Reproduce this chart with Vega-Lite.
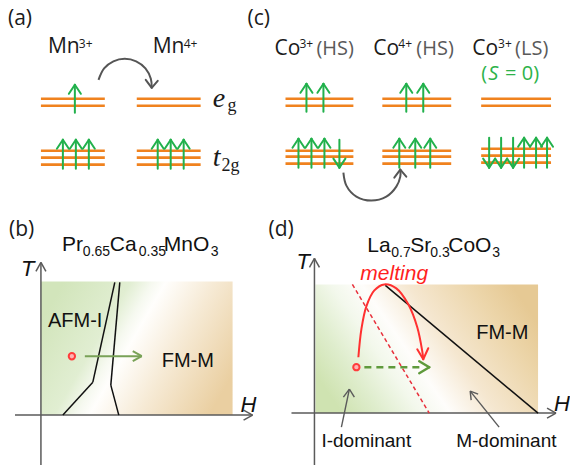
{
"$schema": "https://vega.github.io/schema/vega-lite/v6.json",
"width": 570, "height": 466, "padding": 0,
"autosize": {"type": "fit", "contains": "padding"},
"background": "white",
"config": {"view": {"stroke": null}},
"datasets": {
"rb": [{"x": 41, "x2": 233, "y": 282, "y2": 416}],
"rd": [{"x": 316, "x2": 539, "y": 285, "y2": 414}],
"lv": [
{"x":41,"x2":105,"y":99},{"x":41,"x2":105,"y":106},{"x":137,"x2":201,"y":99},{"x":137,"x2":201,"y":106},
{"x":41,"x2":105,"y":151},{"x":41,"x2":105,"y":158},{"x":41,"x2":105,"y":165},
{"x":137,"x2":201,"y":151},{"x":137,"x2":201,"y":158},{"x":137,"x2":201,"y":165},
{"x":286,"x2":354,"y":99},{"x":286,"x2":354,"y":106},{"x":383,"x2":452,"y":99},{"x":383,"x2":452,"y":106},
{"x":482,"x2":552,"y":99},{"x":482,"x2":552,"y":106},
{"x":286,"x2":354,"y":151},{"x":286,"x2":354,"y":157},{"x":286,"x2":354,"y":164},
{"x":383,"x2":452,"y":151},{"x":383,"x2":452,"y":157},{"x":383,"x2":452,"y":164},
{"x":482,"x2":552,"y":149},{"x":482,"x2":552,"y":156},{"x":482,"x2":552,"y":163}
],
"sp": [
{"x":75,"y":113,"x2":75,"y2":85},{"x":69,"y":94,"x2":75,"y2":85},{"x":81,"y":94,"x2":75,"y2":85},
{"x":63,"y":169,"x2":63,"y2":140},{"x":57,"y":149,"x2":63,"y2":140},{"x":69,"y":149,"x2":63,"y2":140},
{"x":76,"y":169,"x2":76,"y2":140},{"x":70,"y":149,"x2":76,"y2":140},{"x":82,"y":149,"x2":76,"y2":140},
{"x":89,"y":169,"x2":89,"y2":140},{"x":83,"y":149,"x2":89,"y2":140},{"x":95,"y":149,"x2":89,"y2":140},
{"x":158,"y":169,"x2":158,"y2":140},{"x":152,"y":149,"x2":158,"y2":140},{"x":164,"y":149,"x2":158,"y2":140},
{"x":171,"y":169,"x2":171,"y2":140},{"x":165,"y":149,"x2":171,"y2":140},{"x":177,"y":149,"x2":171,"y2":140},
{"x":184,"y":169,"x2":184,"y2":140},{"x":178,"y":149,"x2":184,"y2":140},{"x":190,"y":149,"x2":184,"y2":140},
{"x":307,"y":112,"x2":307,"y2":84},{"x":301,"y":93,"x2":307,"y2":84},{"x":313,"y":93,"x2":307,"y2":84},
{"x":324,"y":112,"x2":324,"y2":84},{"x":318,"y":93,"x2":324,"y2":84},{"x":330,"y":93,"x2":324,"y2":84},
{"x":407,"y":112,"x2":407,"y2":84},{"x":401,"y":93,"x2":407,"y2":84},{"x":413,"y":93,"x2":407,"y2":84},
{"x":424,"y":112,"x2":424,"y2":84},{"x":418,"y":93,"x2":424,"y2":84},{"x":430,"y":93,"x2":424,"y2":84},
{"x":299,"y":168,"x2":299,"y2":139},{"x":293,"y":148,"x2":299,"y2":139},{"x":305,"y":148,"x2":299,"y2":139},
{"x":312,"y":168,"x2":312,"y2":139},{"x":306,"y":148,"x2":312,"y2":139},{"x":318,"y":148,"x2":312,"y2":139},
{"x":325,"y":168,"x2":325,"y2":139},{"x":319,"y":148,"x2":325,"y2":139},{"x":331,"y":148,"x2":325,"y2":139},
{"x":340,"y":140,"x2":340,"y2":168},{"x":334,"y":159,"x2":340,"y2":168},{"x":346,"y":159,"x2":340,"y2":168},
{"x":400,"y":168,"x2":400,"y2":139},{"x":394,"y":148,"x2":400,"y2":139},{"x":406,"y":148,"x2":400,"y2":139},
{"x":416,"y":168,"x2":416,"y2":139},{"x":410,"y":148,"x2":416,"y2":139},{"x":422,"y":148,"x2":416,"y2":139},
{"x":431,"y":168,"x2":431,"y2":139},{"x":425,"y":148,"x2":431,"y2":139},{"x":437,"y":148,"x2":431,"y2":139},
{"x":490,"y":138,"x2":490,"y2":168},{"x":484,"y":159,"x2":490,"y2":168},{"x":496,"y":159,"x2":490,"y2":168},
{"x":502,"y":138,"x2":502,"y2":168},{"x":496,"y":159,"x2":502,"y2":168},{"x":508,"y":159,"x2":502,"y2":168},
{"x":514,"y":138,"x2":514,"y2":168},{"x":508,"y":159,"x2":514,"y2":168},{"x":520,"y":159,"x2":514,"y2":168},
{"x":525,"y":168,"x2":525,"y2":138},{"x":519,"y":147,"x2":525,"y2":138},{"x":531,"y":147,"x2":525,"y2":138},
{"x":537,"y":168,"x2":537,"y2":138},{"x":531,"y":147,"x2":537,"y2":138},{"x":543,"y":147,"x2":537,"y2":138},
{"x":548,"y":168,"x2":548,"y2":138},{"x":542,"y":147,"x2":548,"y2":138},{"x":554,"y":147,"x2":548,"y2":138}
],
"ax": [
{"x":41,"y":466,"x2":41,"y2":263},{"x":36,"y":272,"x2":41,"y2":263},{"x":46,"y":272,"x2":41,"y2":263},
{"x":15,"y":416,"x2":253,"y2":416},{"x":244,"y":411,"x2":253,"y2":416},{"x":244,"y":421,"x2":253,"y2":416},
{"x":315,"y":466,"x2":315,"y2":259},{"x":310,"y":268,"x2":315,"y2":259},{"x":320,"y":268,"x2":315,"y2":259},
{"x":292,"y":414,"x2":557,"y2":414},{"x":548,"y":409,"x2":557,"y2":414},{"x":548,"y":419,"x2":557,"y2":414}
],
"ph": [
{"x":63,"y":416,"x2":93,"y2":383},{"x":93,"y":383,"x2":115,"y2":283},
{"x":119,"y":416,"x2":111,"y2":386},{"x":111,"y":386,"x2":120,"y2":283},
{"x":386,"y":286,"x2":539,"y2":414}
],
"gar": [{"x":85,"y":357,"x2":142,"y2":357},{"x":133,"y":352,"x2":142,"y2":357},{"x":133,"y":362,"x2":142,"y2":357}],
"gd": [{"x":365,"y":368,"x2":424,"y2":368}],
"gh": [{"x":420,"y":362,"x2":430,"y2":368},{"x":420,"y":374,"x2":430,"y2":368}],
"rdl": [{"x":353,"y":285,"x2":430,"y2":414}],
"ptr": [
{"x":342,"y":428,"x2":350,"y2":390},{"x":344,"y":398,"x2":350,"y2":390},{"x":355,"y":398,"x2":350,"y2":390},
{"x":500,"y":428,"x2":471,"y2":392},{"x":472,"y":401,"x2":471,"y2":392},{"x":479,"y":395,"x2":471,"y2":392}
],
"gah": [{"x":146,"y":80,"x2":152,"y2":88},{"x":158,"y":81,"x2":152,"y2":88},{"x":395,"y":178,"x2":401,"y2":170},{"x":407,"y":177,"x2":401,"y2":170}],
"rah": [{"x":418,"y":350,"x2":424,"y2":360},{"x":429,"y":349,"x2":424,"y2":360}],
"gc": [
{"id":"a","i":0,"x":98.7,"y":80},{"id":"a","i":1,"x":104.3,"y":68.6},{"id":"a","i":2,"x":113.6,"y":61.5},{"id":"a","i":3,"x":125,"y":59},
{"id":"a","i":4,"x":136.4,"y":61.5},{"id":"a","i":5,"x":145.7,"y":68.6},{"id":"a","i":6,"x":151.1,"y":79},{"id":"a","i":7,"x":152,"y":88},
{"id":"c","i":0,"x":344,"y":173},{"id":"c","i":1,"x":347,"y":186},{"id":"c","i":2,"x":357,"y":197},{"id":"c","i":3,"x":372,"y":201},
{"id":"c","i":4,"x":387,"y":197},{"id":"c","i":5,"x":397,"y":187},{"id":"c","i":6,"x":401,"y":177},{"id":"c","i":7,"x":401,"y":170}
],
"rc": [
{"i":0,"x":359,"y":358},{"i":1,"x":362,"y":330},{"i":2,"x":367,"y":307},{"i":3,"x":375,"y":291},{"i":4,"x":385,"y":285},
{"i":5,"x":397,"y":289},{"i":6,"x":409,"y":305},{"i":7,"x":418,"y":328},{"i":8,"x":423,"y":352},{"i":9,"x":424,"y":360}
],
"dots": [{"x":72,"y":357},{"x":357,"y":368}],
"tl": [
{"t":"(a)","x":8,"y":25},{"t":"(c)","x":248,"y":25},{"t":"(b)","x":9,"y":237},{"t":"(d)","x":269,"y":237},
{"t":"Mn","x":48,"y":53},{"t":"Mn","x":153,"y":53},{"t":"Co","x":275,"y":55},{"t":"Co","x":374,"y":55},{"t":"Co","x":473,"y":55}
],
"tsup": [
{"t":"3+","x":79,"y":48},{"t":"4+","x":184,"y":48},{"t":"3+","x":300,"y":48},{"t":"4+","x":399,"y":48},{"t":"3+","x":499,"y":48}
],
"ths": [{"t":"(HS)","x":317,"y":55},{"t":"(HS)","x":417,"y":55},{"t":"(LS)","x":516,"y":55}],
"ts1": [{"t":"(","x":482,"y":80},{"t":"= 0)","x":506,"y":80}],
"ts2": [{"t":"S","x":489,"y":80}],
"te": [{"t":"e","x":213,"y":107},{"t":"t","x":213,"y":166}],
"tes": [{"t":"g","x":228,"y":111},{"t":"2g","x":222,"y":171}],
"tlab": [{"t":"AFM-I","x":48,"y":328},{"t":"FM-M","x":162,"y":368},{"t":"FM-M","x":477,"y":340}],
"tttl": [{"t":"Pr","x":62,"y":252},{"t":"Ca","x":110,"y":252},{"t":"MnO","x":164,"y":252},
{"t":"La","x":368,"y":253},{"t":"Sr","x":411,"y":253},{"t":"CoO","x":449,"y":253}],
"ttsub": [{"t":"0.65","x":83,"y":257},{"t":"0.35","x":139,"y":257},{"t":"3","x":211,"y":257},
{"t":"0.7","x":392,"y":258},{"t":"0.3","x":431,"y":258},{"t":"3","x":493,"y":258}],
"tax": [{"t":"T","x":21,"y":277},{"t":"H","x":241,"y":413},{"t":"T","x":297,"y":270},{"t":"H","x":555,"y":412}],
"tdom": [{"t":"I-dominant","x":322,"y":448},{"t":"M-dominant","x":457,"y":448}],
"tmelt": [{"t":"melting","x":361,"y":281}]
},
"layer": [
{"data":{"name":"rb"},"mark":{"type":"rect","fill":{"gradient":"linear","x1":0,"y1":0.3,"x2":1,"y2":0.7,"stops":[
{"offset":0,"color":"#d2e5bb"},{"offset":0.3,"color":"#e1eed2"},{"offset":0.4,"color":"#f6f9f0"},{"offset":0.46,"color":"#fffefc"},{"offset":0.68,"color":"#f6ead5"},{"offset":1,"color":"#eacfa1"}]}},
"encoding":{"x":{"field":"x","type":"quantitative","scale":{"domain":[0,570],"nice":false,"zero":false},"axis":null},"x2":{"field":"x2"},
"y":{"field":"y","type":"quantitative","scale":{"domain":[0,466],"nice":false,"zero":false,"reverse":true},"axis":null},"y2":{"field":"y2"}}},
{"data":{"name":"rd"},"mark":{"type":"rect","fill":{"gradient":"linear","x1":0,"y1":0.7,"x2":1,"y2":0.3,"stops":[
{"offset":0,"color":"#cfe3b1"},{"offset":0.15,"color":"#dfedcd"},{"offset":0.3,"color":"#f3f8ec"},{"offset":0.42,"color":"#fefdfb"},{"offset":0.6,"color":"#f5e7d0"},{"offset":0.85,"color":"#ecd5a9"},{"offset":1,"color":"#e6c994"}]}},
"encoding":{"x":{"field":"x","type":"quantitative","scale":{"domain":[0,570],"nice":false,"zero":false},"axis":null},"x2":{"field":"x2"},
"y":{"field":"y","type":"quantitative","scale":{"domain":[0,466],"nice":false,"zero":false,"reverse":true},"axis":null},"y2":{"field":"y2"}}},
{"data":{"name":"lv"},"mark":{"type":"rule","color":"#f0821e","strokeWidth":2.6},
"encoding":{"x":{"field":"x","type":"quantitative","scale":{"domain":[0,570],"nice":false,"zero":false},"axis":null},"x2":{"field":"x2"},
"y":{"field":"y","type":"quantitative","scale":{"domain":[0,466],"nice":false,"zero":false,"reverse":true},"axis":null}}},
{"data":{"name":"sp"},"mark":{"type":"rule","color":"#22b14c","strokeWidth":2,"strokeCap":"round"},
"encoding":{"x":{"field":"x","type":"quantitative","scale":{"domain":[0,570],"nice":false,"zero":false},"axis":null},"x2":{"field":"x2"},
"y":{"field":"y","type":"quantitative","scale":{"domain":[0,466],"nice":false,"zero":false,"reverse":true},"axis":null},"y2":{"field":"y2"}}},
{"data":{"name":"ax"},"mark":{"type":"rule","color":"#5a5a5a","strokeWidth":1.5},
"encoding":{"x":{"field":"x","type":"quantitative","scale":{"domain":[0,570],"nice":false,"zero":false},"axis":null},"x2":{"field":"x2"},
"y":{"field":"y","type":"quantitative","scale":{"domain":[0,466],"nice":false,"zero":false,"reverse":true},"axis":null},"y2":{"field":"y2"}}},
{"data":{"name":"ph"},"mark":{"type":"rule","color":"#111111","strokeWidth":1.5},
"encoding":{"x":{"field":"x","type":"quantitative","scale":{"domain":[0,570],"nice":false,"zero":false},"axis":null},"x2":{"field":"x2"},
"y":{"field":"y","type":"quantitative","scale":{"domain":[0,466],"nice":false,"zero":false,"reverse":true},"axis":null},"y2":{"field":"y2"}}},
{"data":{"name":"rdl"},"mark":{"type":"rule","color":"#e8303c","strokeWidth":1.5,"strokeDash":[4,3]},
"encoding":{"x":{"field":"x","type":"quantitative","scale":{"domain":[0,570],"nice":false,"zero":false},"axis":null},"x2":{"field":"x2"},
"y":{"field":"y","type":"quantitative","scale":{"domain":[0,466],"nice":false,"zero":false,"reverse":true},"axis":null},"y2":{"field":"y2"}}},
{"data":{"name":"gar"},"mark":{"type":"rule","color":"#79a257","strokeWidth":2},
"encoding":{"x":{"field":"x","type":"quantitative","scale":{"domain":[0,570],"nice":false,"zero":false},"axis":null},"x2":{"field":"x2"},
"y":{"field":"y","type":"quantitative","scale":{"domain":[0,466],"nice":false,"zero":false,"reverse":true},"axis":null},"y2":{"field":"y2"}}},
{"data":{"name":"gd"},"mark":{"type":"rule","color":"#5f9a3c","strokeWidth":2.5,"strokeDash":[7,5]},
"encoding":{"x":{"field":"x","type":"quantitative","scale":{"domain":[0,570],"nice":false,"zero":false},"axis":null},"x2":{"field":"x2"},
"y":{"field":"y","type":"quantitative","scale":{"domain":[0,466],"nice":false,"zero":false,"reverse":true},"axis":null},"y2":{"field":"y2"}}},
{"data":{"name":"gh"},"mark":{"type":"rule","color":"#5f9a3c","strokeWidth":2.5,"strokeCap":"round"},
"encoding":{"x":{"field":"x","type":"quantitative","scale":{"domain":[0,570],"nice":false,"zero":false},"axis":null},"x2":{"field":"x2"},
"y":{"field":"y","type":"quantitative","scale":{"domain":[0,466],"nice":false,"zero":false,"reverse":true},"axis":null},"y2":{"field":"y2"}}},
{"data":{"name":"ptr"},"mark":{"type":"rule","color":"#5a5a5a","strokeWidth":1.4},
"encoding":{"x":{"field":"x","type":"quantitative","scale":{"domain":[0,570],"nice":false,"zero":false},"axis":null},"x2":{"field":"x2"},
"y":{"field":"y","type":"quantitative","scale":{"domain":[0,466],"nice":false,"zero":false,"reverse":true},"axis":null},"y2":{"field":"y2"}}},
{"data":{"name":"gc"},"mark":{"type":"line","color":"#555555","strokeWidth":2,"interpolate":"catmull-rom"},
"encoding":{"x":{"field":"x","type":"quantitative","scale":{"domain":[0,570],"nice":false,"zero":false},"axis":null},
"y":{"field":"y","type":"quantitative","scale":{"domain":[0,466],"nice":false,"zero":false,"reverse":true},"axis":null},
"detail":{"field":"id"},"order":{"field":"i","type":"quantitative"}}},
{"data":{"name":"gah"},"mark":{"type":"rule","color":"#555555","strokeWidth":2,"strokeCap":"round"},
"encoding":{"x":{"field":"x","type":"quantitative","scale":{"domain":[0,570],"nice":false,"zero":false},"axis":null},"x2":{"field":"x2"},
"y":{"field":"y","type":"quantitative","scale":{"domain":[0,466],"nice":false,"zero":false,"reverse":true},"axis":null},"y2":{"field":"y2"}}},
{"data":{"name":"rc"},"mark":{"type":"line","color":"#ff3030","strokeWidth":2,"interpolate":"catmull-rom"},
"encoding":{"x":{"field":"x","type":"quantitative","scale":{"domain":[0,570],"nice":false,"zero":false},"axis":null},
"y":{"field":"y","type":"quantitative","scale":{"domain":[0,466],"nice":false,"zero":false,"reverse":true},"axis":null},
"order":{"field":"i","type":"quantitative"}}},
{"data":{"name":"rah"},"mark":{"type":"rule","color":"#ff3030","strokeWidth":2,"strokeCap":"round"},
"encoding":{"x":{"field":"x","type":"quantitative","scale":{"domain":[0,570],"nice":false,"zero":false},"axis":null},"x2":{"field":"x2"},
"y":{"field":"y","type":"quantitative","scale":{"domain":[0,466],"nice":false,"zero":false,"reverse":true},"axis":null},"y2":{"field":"y2"}}},
{"data":{"name":"dots"},"mark":{"type":"point","shape":"circle","filled":true,"fill":"#ffb3b3","stroke":"#ff3c3c","strokeWidth":2,"size":40,"opacity":1},
"encoding":{"x":{"field":"x","type":"quantitative","scale":{"domain":[0,570],"nice":false,"zero":false},"axis":null},
"y":{"field":"y","type":"quantitative","scale":{"domain":[0,466],"nice":false,"zero":false,"reverse":true},"axis":null}}},
{"data":{"name":"tl"},"mark":{"type":"text","font":"Open Sans","fontSize":21,"color":"#1a1a1a","align":"left","baseline":"alphabetic"},
"encoding":{"x":{"field":"x","type":"quantitative","scale":{"domain":[0,570],"nice":false,"zero":false},"axis":null},
"y":{"field":"y","type":"quantitative","scale":{"domain":[0,466],"nice":false,"zero":false,"reverse":true},"axis":null},"text":{"field":"t"}}},
{"data":{"name":"tsup"},"mark":{"type":"text","font":"Open Sans","fontSize":12,"color":"#1a1a1a","align":"left","baseline":"alphabetic"},
"encoding":{"x":{"field":"x","type":"quantitative","scale":{"domain":[0,570],"nice":false,"zero":false},"axis":null},
"y":{"field":"y","type":"quantitative","scale":{"domain":[0,466],"nice":false,"zero":false,"reverse":true},"axis":null},"text":{"field":"t"}}},
{"data":{"name":"ths"},"mark":{"type":"text","font":"Open Sans","fontSize":20,"color":"#5a5a5a","align":"left","baseline":"alphabetic"},
"encoding":{"x":{"field":"x","type":"quantitative","scale":{"domain":[0,570],"nice":false,"zero":false},"axis":null},
"y":{"field":"y","type":"quantitative","scale":{"domain":[0,466],"nice":false,"zero":false,"reverse":true},"axis":null},"text":{"field":"t"}}},
{"data":{"name":"ts1"},"mark":{"type":"text","font":"Open Sans","fontSize":20,"color":"#2db24a","align":"left","baseline":"alphabetic"},
"encoding":{"x":{"field":"x","type":"quantitative","scale":{"domain":[0,570],"nice":false,"zero":false},"axis":null},
"y":{"field":"y","type":"quantitative","scale":{"domain":[0,466],"nice":false,"zero":false,"reverse":true},"axis":null},"text":{"field":"t"}}},
{"data":{"name":"ts2"},"mark":{"type":"text","font":"Open Sans","fontStyle":"italic","fontSize":20,"color":"#2db24a","align":"left","baseline":"alphabetic"},
"encoding":{"x":{"field":"x","type":"quantitative","scale":{"domain":[0,570],"nice":false,"zero":false},"axis":null},
"y":{"field":"y","type":"quantitative","scale":{"domain":[0,466],"nice":false,"zero":false,"reverse":true},"axis":null},"text":{"field":"t"}}},
{"data":{"name":"te"},"mark":{"type":"text","font":"Liberation Serif","fontStyle":"italic","fontSize":28,"color":"#1a1a1a","align":"left","baseline":"alphabetic"},
"encoding":{"x":{"field":"x","type":"quantitative","scale":{"domain":[0,570],"nice":false,"zero":false},"axis":null},
"y":{"field":"y","type":"quantitative","scale":{"domain":[0,466],"nice":false,"zero":false,"reverse":true},"axis":null},"text":{"field":"t"}}},
{"data":{"name":"tes"},"mark":{"type":"text","font":"Liberation Serif","fontSize":18,"color":"#1a1a1a","align":"left","baseline":"alphabetic"},
"encoding":{"x":{"field":"x","type":"quantitative","scale":{"domain":[0,570],"nice":false,"zero":false},"axis":null},
"y":{"field":"y","type":"quantitative","scale":{"domain":[0,466],"nice":false,"zero":false,"reverse":true},"axis":null},"text":{"field":"t"}}},
{"data":{"name":"tlab"},"mark":{"type":"text","font":"Liberation Sans","fontSize":20,"color":"#111111","align":"left","baseline":"alphabetic"},
"encoding":{"x":{"field":"x","type":"quantitative","scale":{"domain":[0,570],"nice":false,"zero":false},"axis":null},
"y":{"field":"y","type":"quantitative","scale":{"domain":[0,466],"nice":false,"zero":false,"reverse":true},"axis":null},"text":{"field":"t"}}},
{"data":{"name":"tttl"},"mark":{"type":"text","font":"Liberation Sans","fontSize":21,"color":"#111111","align":"left","baseline":"alphabetic"},
"encoding":{"x":{"field":"x","type":"quantitative","scale":{"domain":[0,570],"nice":false,"zero":false},"axis":null},
"y":{"field":"y","type":"quantitative","scale":{"domain":[0,466],"nice":false,"zero":false,"reverse":true},"axis":null},"text":{"field":"t"}}},
{"data":{"name":"ttsub"},"mark":{"type":"text","font":"Liberation Sans","fontSize":14,"color":"#111111","align":"left","baseline":"alphabetic"},
"encoding":{"x":{"field":"x","type":"quantitative","scale":{"domain":[0,570],"nice":false,"zero":false},"axis":null},
"y":{"field":"y","type":"quantitative","scale":{"domain":[0,466],"nice":false,"zero":false,"reverse":true},"axis":null},"text":{"field":"t"}}},
{"data":{"name":"tax"},"mark":{"type":"text","font":"Liberation Sans","fontStyle":"italic","fontSize":22,"color":"#111111","align":"left","baseline":"alphabetic"},
"encoding":{"x":{"field":"x","type":"quantitative","scale":{"domain":[0,570],"nice":false,"zero":false},"axis":null},
"y":{"field":"y","type":"quantitative","scale":{"domain":[0,466],"nice":false,"zero":false,"reverse":true},"axis":null},"text":{"field":"t"}}},
{"data":{"name":"tdom"},"mark":{"type":"text","font":"Liberation Sans","fontSize":19,"color":"#111111","align":"left","baseline":"alphabetic"},
"encoding":{"x":{"field":"x","type":"quantitative","scale":{"domain":[0,570],"nice":false,"zero":false},"axis":null},
"y":{"field":"y","type":"quantitative","scale":{"domain":[0,466],"nice":false,"zero":false,"reverse":true},"axis":null},"text":{"field":"t"}}},
{"data":{"name":"tmelt"},"mark":{"type":"text","font":"Liberation Sans","fontStyle":"italic","fontSize":21,"color":"#ff1f1f","align":"left","baseline":"alphabetic"},
"encoding":{"x":{"field":"x","type":"quantitative","scale":{"domain":[0,570],"nice":false,"zero":false},"axis":null},
"y":{"field":"y","type":"quantitative","scale":{"domain":[0,466],"nice":false,"zero":false,"reverse":true},"axis":null},"text":{"field":"t"}}}
]
}
